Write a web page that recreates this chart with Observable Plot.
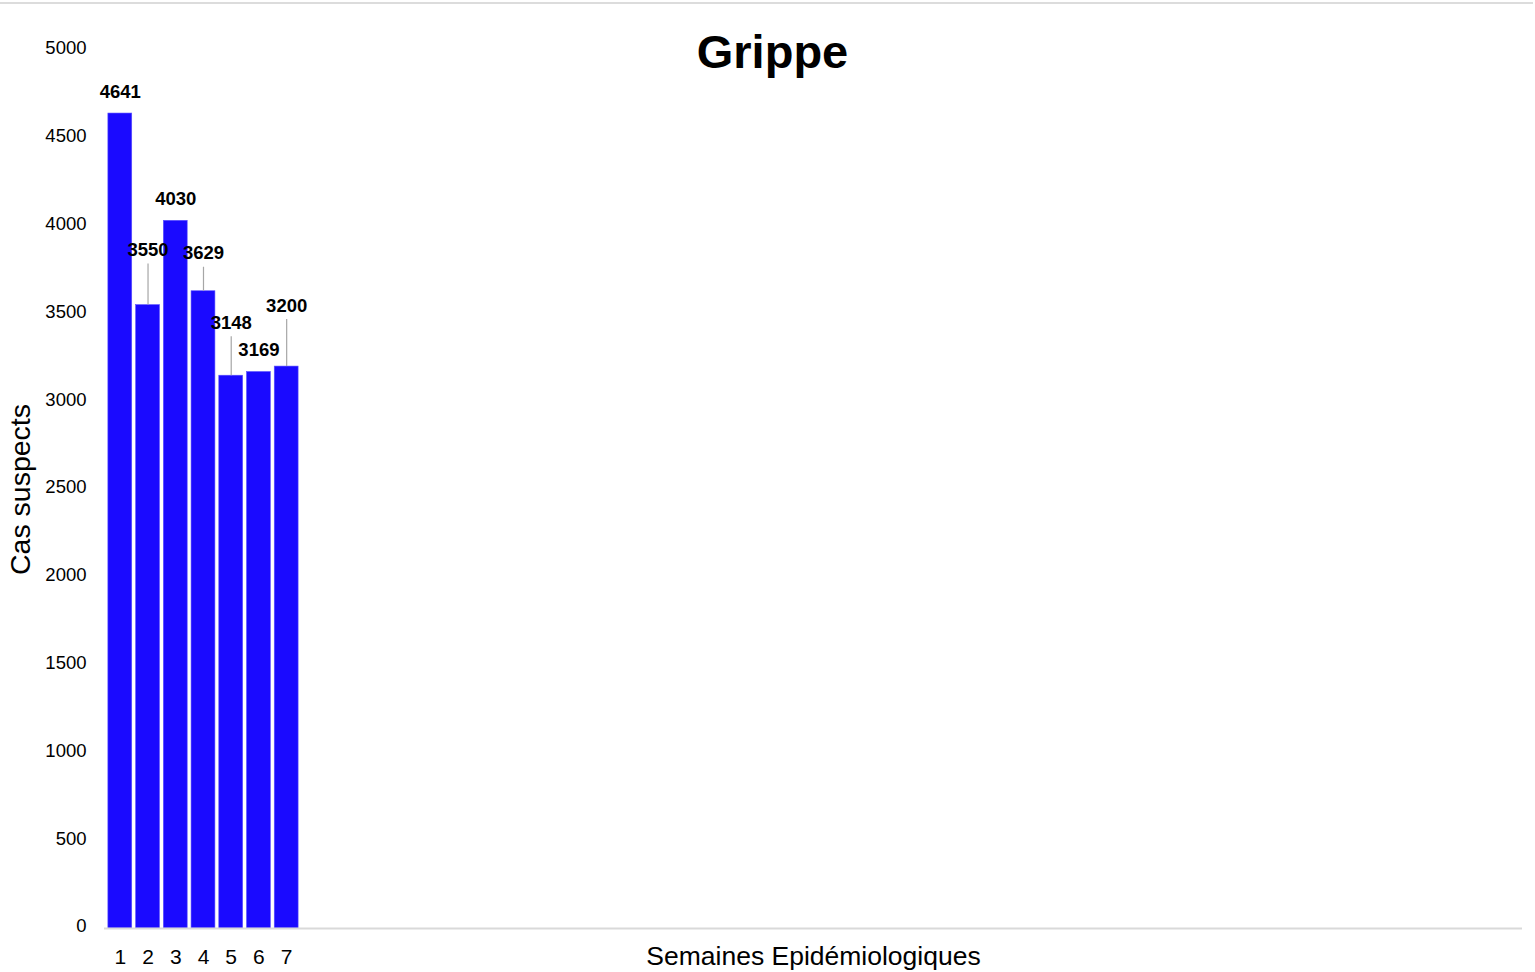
<!DOCTYPE html>
<html>
<head>
<meta charset="utf-8">
<script src="https://cdn.jsdelivr.net/npm/d3@7"></script>
<script src="https://cdn.jsdelivr.net/npm/@observablehq/plot@0.6"></script>
<style>
  html, body { margin: 0; padding: 0; background: #fff; overflow: hidden; }
  #wrap { position: relative; width: 1535px; height: 972px; font-family: "Liberation Sans", Arial, sans-serif; }
  #topline { position: absolute; left: 0; top: 2px; width: 1533px; height: 2px; background: #dcdcdc; }
  #title { position: absolute; left: 0; width: 1545px; top: 22px; text-align: center; font-size: 47px; font-weight: bold; line-height: 60px; color: #000; margin: 0; }
</style>
</head>
<body>
<div id="wrap">
  <div id="topline"></div>
  <div id="chart"></div>
  <h1 id="title">Grippe</h1>
</div>
<script>
// ---- data ----
const weeks = d3.range(1, 52);            // epidemiological weeks in the x domain
const dataWeeks = [1, 2, 3, 4, 5, 6, 7];
const cases = [4641, 3550, 4030, 3629, 3148, 3169, 3200];
const yTicks = [0, 500, 1000, 1500, 2000, 2500, 3000, 3500, 4000, 4500, 5000];
const xLabel = "Semaines Epidémiologiques";
const yLabel = "Cas suspects";

// ---- layout (label lift above bar top, in px) ----
const labelLiftPx = [21, 55, 22, 38, 53, 22, 61];

const W = 1535, H = 972;
const mTop = 50, mBottom = 44, mLeft = 104, mRight = 13;
const pxPerUnit = (H - mTop - mBottom) / 5000;

const rows = dataWeeks.map((w, i) => ({
  week: w,
  value: cases[i],
  labelY: cases[i] + labelLiftPx[i] / pxPerUnit,
  leaderTop: cases[i] + (labelLiftPx[i] - 14) / pxPerUnit,
  leader: labelLiftPx[i] > 30
}));

const font = "'Liberation Sans', Arial, sans-serif";

const chart = Plot.plot({
  width: W,
  height: H,
  marginTop: mTop,
  marginBottom: mBottom,
  marginLeft: mLeft,
  marginRight: mRight,
  style: { fontFamily: font, background: "white", color: "#000" },
  x: { type: "band", domain: weeks, padding: 0.14, axis: null },
  y: { domain: [0, 5000], axis: null },
  marks: [
    Plot.barY(rows, { x: "week", y: "value", fill: "#1a0aff", stroke: "#5a50ff", strokeWidth: 0.6 }),
    Plot.ruleY([0], { stroke: "#d9d9d9", strokeWidth: 2 }),
    Plot.axisY(yTicks, { anchor: "left", tickSize: 0, tickPadding: 18, fontSize: 18.5, dy: -2, label: null, tickFormat: d => String(d) }),
    Plot.axisX(dataWeeks, { anchor: "bottom", tickSize: 0, tickPadding: 21, fontSize: 21, label: null }),
    Plot.ruleX(rows.filter(d => d.leader), { x: "week", y1: "value", y2: "leaderTop", stroke: "#a6a6a6", strokeWidth: 1.2 }),
    Plot.text(rows, { x: "week", y: "labelY", text: d => String(d.value), fontSize: 18.5, fontWeight: "bold", fill: "#000", lineAnchor: "middle" }),
    Plot.text([xLabel], { frameAnchor: "bottom", dy: 28, fontSize: 26.5, fill: "#000", lineAnchor: "middle" }),
    Plot.text([yLabel], { frameAnchor: "left", dx: -84, rotate: -90, textAnchor: "middle", fontSize: 28.5, fill: "#000", lineAnchor: "middle" })
  ]
});
document.getElementById("chart").appendChild(chart);
</script>
</body>
</html>
